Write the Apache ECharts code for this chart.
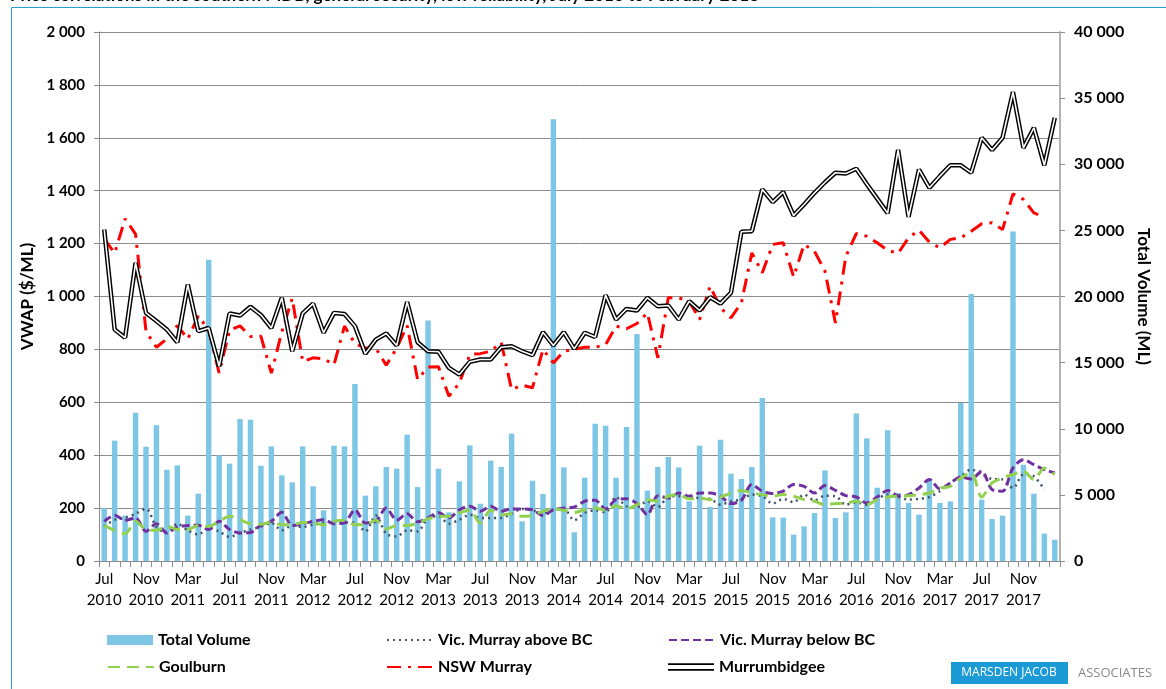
<!DOCTYPE html>
<html>
<head>
<meta charset="utf-8">
<script src="https://cdn.jsdelivr.net/npm/echarts@6/dist/echarts.min.js"></script>
<style>
  html, body { margin: 0; padding: 0; background: #fff; }
  #chart { width: 1166px; height: 689px; }
</style>
</head>
<body>
<div id="chart"></div>
<script>
// month axis: Jul 2010 .. Feb 2018
var monthNames = ['Jul', 'Aug', 'Sep', 'Oct', 'Nov', 'Dec', 'Jan', 'Feb', 'Mar', 'Apr', 'May', 'Jun'];
var firstYear = 2010;
var monthCount = 92;

// left axis ticks ($/ML), right axis ticks (ML)
var priceTicks = [0, 200, 400, 600, 800, 1000, 1200, 1400, 1600, 1800, 2000];
var volumeTicks = [0, 5000, 10000, 15000, 20000, 25000, 30000, 35000, 40000];

// total volume traded (ML)
var totalVolume = [
    4000, 9100, 3430, 11210, 8640, 10260, 6900, 7230, 3430, 5090, 22780, 7990,
    7360, 10740, 10680, 7200, 8670, 6480, 5950, 8670, 5650, 3830, 8720, 8670,
    13380, 4940, 5650, 7110, 6980, 9550, 5590, 18190, 6980, 3680, 6020, 8740,
    4330, 7590, 7110, 9630, 3000, 6070, 5070, 33400, 7080, 2170, 6300, 10380,
    10230, 6300, 10130, 17160, 5320, 7110, 7860, 7080, 4510, 8720, 4080, 9170,
    6600, 6200, 7110, 12320, 3300, 3280, 1990, 2620, 3630, 6850, 3250, 3680,
    11160, 9270, 5540, 9880, 5140, 4390, 3500, 6200, 4390, 4510, 11950, 20190,
    4640, 3180, 3430, 24920, 7280, 5090, 2070, 1610
];

// VWAP ($/ML)
var vicAbove = [
    131, 156, 163, 179, 197, 129, 106, 141, 116, 100, 125, 112,
    91, 106, 119, 130, 144, 116, 134, 129, 137, 144, 150, 146,
    146, 112, 172, 103, 93, 116, 112, 163, 169, 141, 156, 175,
    163, 163, 163, 179, 197, 192, 179, 192, 197, 154, 182, 192,
    184, 242, 207, 204, 226, 204, 242, 245, 242, 238, 235, 213,
    226, 232, 251, 245, 217, 235, 222, 251, 229, 247, 245, 213,
    222, 213, 235, 251, 242, 232, 235, 242, 264, 295, 320, 346,
    327, 310, 308, 276, 327, 320, 270, null
];
var vicBelow = [
    150, 173, 154, 163, 112, 141, 106, 129, 134, 135, 119, 150,
    119, 106, 108, 135, 150, 184, 134, 141, 150, 156, 141, 144,
    194, 144, 150, 200, 154, 179, 148, 163, 182, 163, 194, 207,
    188, 207, 188, 197, 197, 194, 172, 194, 200, 204, 226, 230,
    197, 232, 235, 217, 175, 247, 238, 257, 245, 257, 257, 245,
    217, 230, 289, 264, 255, 264, 289, 282, 257, 285, 267, 247,
    242, 219, 242, 267, 247, 251, 276, 308, 272, 295, 318, 310,
    339, 270, 264, 352, 383, 364, 346, 333
];
var goulburn = [
    134, 116, 103, 150, 119, 116, 131, 119, 119, 134, 131, 150,
    169, 156, 141, 139, 146, 137, 137, 146, 144, 137, 150, 154,
    137, 137, 154, 121, 134, 134, 143, 159, 169, 169, 182, 192,
    144, 192, 175, 179, 169, 172, 188, 197, 192, 183, 194, 200,
    192, 209, 197, 213, 232, 226, 245, 251, 235, 238, 232, 242,
    257, 267, 257, 251, 245, 251, 245, 232, 226, 213, 217, 219,
    226, 213, 232, 242, 245, 247, 251, 257, 276, 282, 314, 333,
    242, 295, 314, 327, 339, 308, 352, 327
];
var nswMurray = [
    1218, 1164, 1294, 1236, 868, 808, 840, 890, 839, 927, 873, 711,
    873, 889, 849, 850, 710, 866, 993, 754, 768, 765, 742, 888,
    822, 805, 805, 740, 805, 890, 686, 733, 734, 623, 673, 781,
    784, 793, 827, 648, 665, 655, 800, 749, 793, 800, 808, 808,
    818, 888, 878, 898, 938, 768, 995, 995, 982, 913, 1039, 957,
    919, 976, 1165, 1090, 1197, 1203, 1074, 1197, 1171, 1096, 900, 1152,
    1238, 1228, 1203, 1175, 1163, 1222, 1251, 1205, 1184, 1216, 1222, 1247,
    1275, 1279, 1253, 1388, 1367, 1316, 1301, null
];
var murrumbidgee = [
    1253, 875, 844, 1127, 938, 907, 875, 827, 1045, 869, 881, 736,
    936, 928, 961, 930, 881, 995, 793, 936, 973, 863, 938, 934,
    888, 784, 837, 860, 815, 979, 827, 793, 791, 730, 705, 753,
    762, 762, 808, 812, 793, 778, 865, 815, 865, 802, 863, 847,
    1005, 913, 953, 947, 995, 963, 966, 913, 982, 947, 997, 973,
    1014, 1245, 1247, 1405, 1357, 1395, 1306, 1348, 1392, 1432, 1468, 1465,
    1483, 1425, 1370, 1315, 1554, 1301, 1480, 1411, 1455, 1496, 1496, 1468,
    1600, 1554, 1600, 1773, 1562, 1638, 1496, 1676
];

var categories = [];
for (var m = 0; m < monthCount; m++) {
    var yr = firstYear + Math.floor((m + 6) / 12);
    categories.push(monthNames[m % 12] + '\n' + yr);
}

// "2 000" style numbers
function spaced(v) {
    return String(v).replace(/\B(?=(\d{3})+(?!\d))/g, ' ');
}

var FONT = 'Lato, "Open Sans", "DejaVu Sans", sans-serif';
var lineSeries = function (name, data, color, width, dash, smooth) {
    return {
        name: name,
        type: 'line',
        yAxisIndex: 0,
        data: data,
        symbol: 'none',
        smooth: smooth,
        connectNulls: false,
        lineStyle: { color: color, width: width, type: dash },
        itemStyle: { color: color },
        z: 3
    };
};

// one legend per entry so the 2x3 block can be placed like the original
function legendAt(left, top, name, extra, hideSymbol) {
    var item = { name: name };
    if (extra) { for (var k in extra) item[k] = extra[k]; }
    var lg = {
        left: left,
        top: top,
        padding: 0,
        itemWidth: 46,
        itemHeight: 10,
        selectedMode: false,
        data: [item],
        textStyle: { fontFamily: FONT, fontWeight: 'bold', fontSize: 16, color: '#000' }
    };
    if (hideSymbol) lg.itemStyle = { opacity: 0 };
    return lg;
}

var chart = echarts.init(document.getElementById('chart'));

chart.setOption({
    animation: false,
    backgroundColor: '#fff',
    grid: { left: 99, right: 106, top: 32, bottom: 128 },
    legend: [
        legendAt(107, 632, 'Total Volume', { icon: 'rect' }),
        legendAt(386, 632, 'Vic. Murray above BC', null, true),
        legendAt(668, 632, 'Vic. Murray below BC', null, true),
        legendAt(107, 659, 'Goulburn', null, true),
        legendAt(386, 659, 'NSW Murray', null, true),
        legendAt(668, 659, 'Murrumbidgee', { icon: 'path://M0,0L48,0L48,2L0,2Z M0,6L48,6L48,8L0,8Z' })
    ],
    xAxis: {
        type: 'category',
        data: categories,
        boundaryGap: true,
        axisLine: { lineStyle: { color: '#8c8c8c', width: 1 } },
        axisTick: { show: true, interval: 0, length: 6, lineStyle: { color: '#8c8c8c' } },
        axisLabel: {
            interval: 3,
            color: '#000',
            fontFamily: FONT,
            fontSize: 15,
            lineHeight: 21,
            margin: 8
        },
        splitLine: { show: false }
    },
    yAxis: [
        {
            type: 'value',
            min: priceTicks[0],
            max: priceTicks[priceTicks.length - 1],
            interval: 200,
            name: 'VWAP ($/ML)',
            nameLocation: 'middle',
            nameGap: 61,
            nameTextStyle: { fontFamily: FONT, fontWeight: 'bold', fontSize: 17, color: '#000' },
            axisLine: { show: true, lineStyle: { color: '#8c8c8c' } },
            axisTick: { show: true, length: 5, lineStyle: { color: '#8c8c8c' } },
            axisLabel: {
                margin: 14,
                color: '#000',
                fontFamily: FONT,
                fontWeight: 'bold',
                fontSize: 15,
                formatter: spaced
            },
            splitLine: { show: true, lineStyle: { color: '#8c8c8c', width: 1 } }
        },
        {
            type: 'value',
            min: volumeTicks[0],
            max: volumeTicks[volumeTicks.length - 1],
            interval: 5000,
            position: 'right',
            name: 'Total Volume (ML)',
            nameLocation: 'middle',
            nameRotate: -90,
            nameGap: 72,
            nameTextStyle: { fontFamily: FONT, fontWeight: 'bold', fontSize: 17, color: '#000' },
            axisLine: { show: true, lineStyle: { color: '#b3b3b3', width: 2 } },
            axisTick: { show: true, length: 5, lineStyle: { color: '#8c8c8c' } },
            axisLabel: {
                margin: 14,
                color: '#000',
                fontFamily: FONT,
                fontWeight: 'bold',
                fontSize: 16,
                formatter: spaced
            },
            splitLine: { show: false }
        }
    ],
    series: [
        {
            name: 'Total Volume',
            type: 'bar',
            yAxisIndex: 1,
            data: totalVolume,
            barCategoryGap: '48%',
            itemStyle: { color: '#7ec6e6' },
            z: 2
        },
        lineSeries('Vic. Murray above BC', vicAbove, '#44546a', 2.5, [2, 4], 0.3),
        lineSeries('Vic. Murray below BC', vicBelow, '#7030a0', 3, [8, 4], 0.3),
        lineSeries('Goulburn', goulburn, '#92d050', 3, [12, 7], 0.3),
        lineSeries('NSW Murray', nswMurray, '#ff0000', 3, [14, 7, 3, 7], false),
        lineSeries('Murrumbidgee', murrumbidgee, '#000000', 4.5, 'solid', false),
        {
            name: 'murrumbidgee-inner',
            type: 'line',
            yAxisIndex: 0,
            data: murrumbidgee,
            symbol: 'none',
            silent: true,
            lineStyle: { color: '#ffffff', width: 1.6 },
            z: 4
        }
    ],
    graphic: [
        {
            type: 'text',
            left: 10,
            top: -13,
            style: {
                text: 'Price correlations in the southern MDB, general security, low reliability, July 2010 to February 2018',
                fontFamily: FONT,
                fontWeight: 'bold',
                fontSize: 17,
                fill: '#000'
            }
        },
        { type: 'line', shape: { x1: 11.5, y1: 7.5, x2: 1166, y2: 7.5 }, style: { stroke: '#2b9bd8', lineWidth: 1 } },
        { type: 'line', shape: { x1: 11.5, y1: 7.5, x2: 11.5, y2: 689 }, style: { stroke: '#2b9bd8', lineWidth: 1 } },
        {
            type: 'rect',
            shape: { x: 951, y: 662, width: 117, height: 22 },
            style: { fill: '#1b9ad6' }
        },
        {
            type: 'text',
            x: 1009, y: 673,
            style: {
                text: 'MARSDEN JACOB',
                fill: '#ffffff',
                fontFamily: '"Open Sans", sans-serif',
                fontSize: 12,
                align: 'center',
                verticalAlign: 'middle'
            }
        },
        {
            type: 'text',
            x: 1115, y: 673,
            style: {
                text: 'ASSOCIATES',
                fill: '#8a8a8a',
                fontFamily: '"Open Sans", sans-serif',
                fontSize: 13,
                align: 'center',
                verticalAlign: 'middle'
            }
        }
    ]
});
</script>
</body>
</html>
